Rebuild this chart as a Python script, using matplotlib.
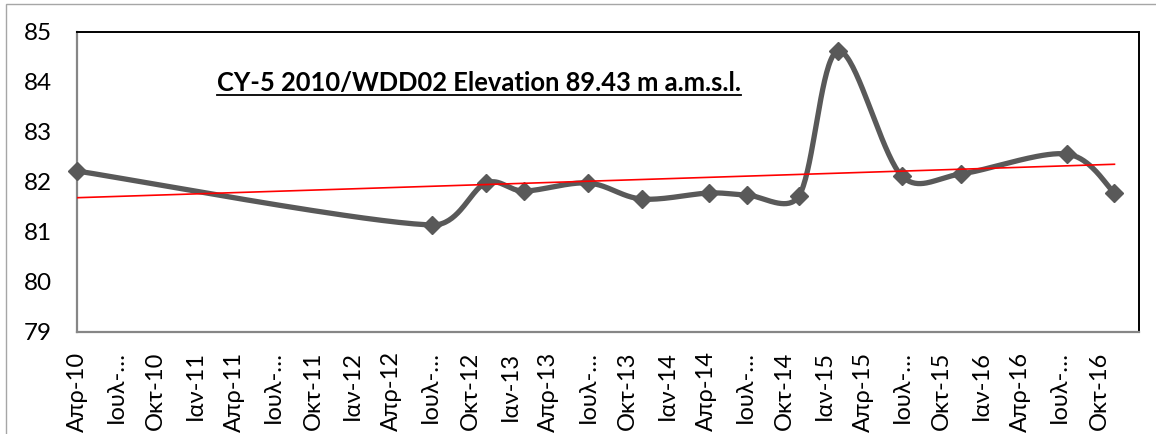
import datetime as dt
import numpy as np
import matplotlib
matplotlib.use("Agg")
import matplotlib.pyplot as plt
import matplotlib.dates as mdates
from matplotlib.lines import Line2D
from matplotlib.patches import Rectangle

# water level readings (m a.m.s.l.)
dates = ["2010-04-01", "2012-07-04", "2012-11-06", "2013-02-02", "2013-07-01",
         "2013-11-03", "2014-04-08", "2014-07-05", "2014-11-03", "2015-02-02",
         "2015-06-30", "2015-11-14", "2016-07-17", "2016-11-05"]
levels = [82.22, 81.14, 81.98, 81.82, 81.98, 81.66, 81.78, 81.74, 81.72,
          84.62, 82.12, 82.16, 82.56, 81.78]

months_gr = {1: "Ιαν", 4: "Απρ", 7: "Ιουλ", 10: "Οκτ"}
title = "CY-5 2010/WDD02 Elevation 89.43 m a.m.s.l."

plt.rcParams['font.family'] = ['Lato', 'DejaVu Sans']

x = np.array([mdates.date2num(dt.date.fromisoformat(d)) for d in dates])
y = np.array(levels)

W, H = 1156, 434
x0, x1 = mdates.date2num(dt.date(2010, 4, 1)), mdates.date2num(dt.date(2017, 1, 1))
sx_px = (1139 - 77) / (x1 - x0)   # px per day
sy_px = 300 / 6.0                 # px per metre


def smooth(px, py, n=40):
    # bezier smoothing (catmull-rom style), control arms capped by segment length
    pts = np.column_stack([px * sx_px, py * sy_px])
    npt = len(pts)
    tang = [(pts[min(i + 1, npt - 1)] - pts[max(i - 1, 0)]) / 6 for i in range(npt)]

    def cap(v, seg):
        lim = 0.4 * np.hypot(*seg)
        ln = np.hypot(*v)
        return v if ln <= lim else v * lim / ln

    out = [pts[0]]
    for i in range(npt - 1):
        p1, p2 = pts[i], pts[i + 1]
        c1 = p1 + cap(tang[i], p2 - p1)
        c2 = p2 - cap(tang[i + 1], p2 - p1)
        t = np.linspace(0, 1, n)[1:, None]
        seg = ((1 - t) ** 3) * p1 + 3 * ((1 - t) ** 2) * t * c1 + 3 * (1 - t) * t ** 2 * c2 + t ** 3 * p2
        out.extend(seg)
    out = np.array(out)
    return out[:, 0] / sx_px, out[:, 1] / sy_px


fig = plt.figure(figsize=(W / 100, H / 100), dpi=100)
ax = fig.add_axes([77 / W, (H - 332) / H, (1139 - 77) / W, 300 / H])

sx, sy = smooth(x, y)
ax.plot(sx, sy, color="#595959", lw=3.8, zorder=3, solid_capstyle="round", clip_on=False)
ax.plot(x, y, ls="none", marker="D", ms=9.5, color="#595959", zorder=4, clip_on=False)

k, b = np.polyfit(x, y, 1)
ax.plot([x[0], x[-1]], [k * x[0] + b, k * x[-1] + b], color="red", lw=1.2, zorder=5)

ticks = []
labels = []
for yr in range(2010, 2017):
    for m in (1, 4, 7, 10):
        d = dt.date(yr, m, 1)
        if d < dt.date(2010, 4, 1) or d > dt.date(2016, 10, 1):
            continue
        ticks.append(mdates.date2num(d))
        if m == 7:
            labels.append("Ιουλ-…")
        else:
            labels.append("%s-%02d" % (months_gr[m], yr % 100))

ax.set_xlim(x0, x1)
ax.set_ylim(79, 85)
ax.set_xticks(ticks)
ax.set_xticklabels(labels, rotation=90, fontsize=17)
ax.set_yticks(range(79, 86))
ax.tick_params(axis="x", length=0, pad=14)
ax.tick_params(axis="y", length=0, pad=18, labelsize=17.5)

for s in ("left", "bottom"):
    ax.spines[s].set_color("#868686")
    ax.spines[s].set_linewidth(1.6)
for s in ("top", "right"):
    ax.spines[s].set_color("black")
    ax.spines[s].set_linewidth(1.4)

t = ax.text(0.3785, 0.804, title, transform=ax.transAxes, ha="center",
            va="baseline", fontsize=18.4, fontweight="bold")

fig.patches.append(Rectangle((5.5, -10), W + 20, H - 3.5 + 10, transform=None,
                             fill=False, edgecolor="#a6a6a6", lw=1))

fig.canvas.draw()
bb = t.get_window_extent()
uy = H - 94.5
fig.lines.append(Line2D([bb.x0, bb.x1], [uy, uy], transform=None, color="black", lw=1.3))

fig.savefig("out.png", dpi=100)
